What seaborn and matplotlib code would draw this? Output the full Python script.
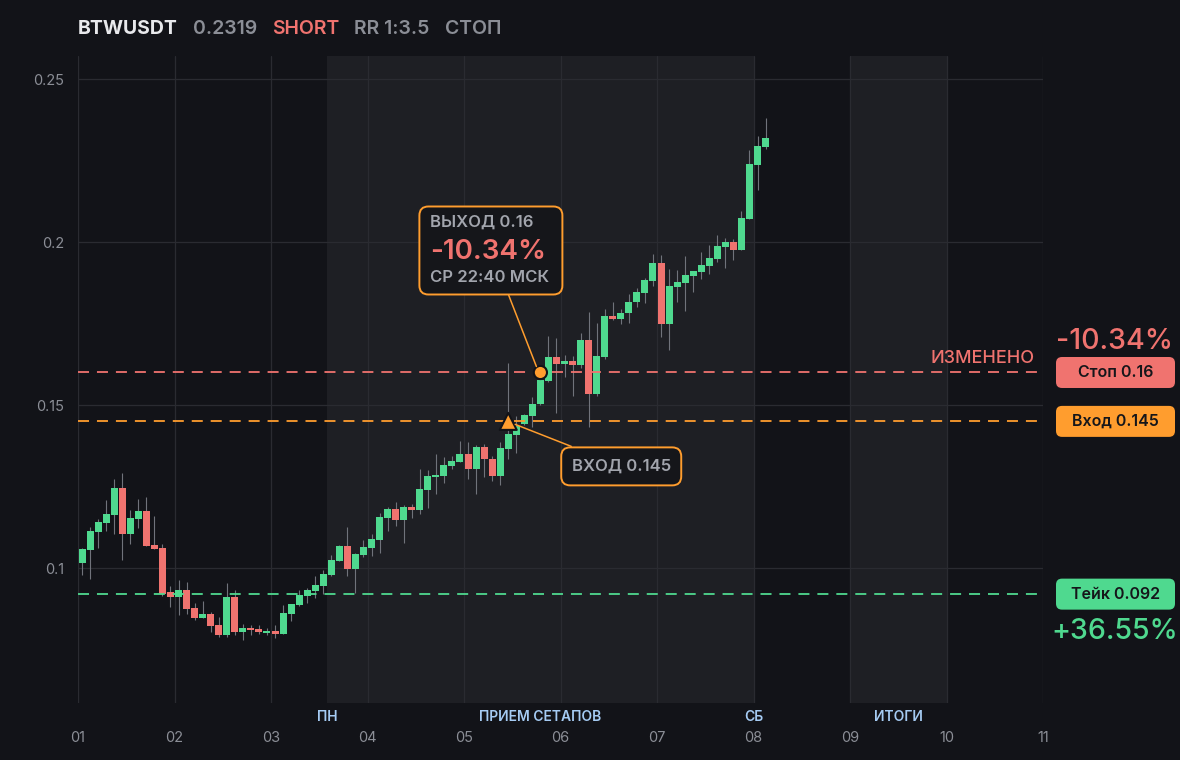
import numpy as np
import pandas as pd
import seaborn as sns
import matplotlib.pyplot as plt
from matplotlib.patches import FancyBboxPatch

# BTWUSDT, 2h candles starting from day 01 00:00
opens = [0.1016, 0.1056, 0.1112, 0.1139, 0.1164, 0.1245, 0.1105, 0.1151, 0.1175, 0.1071,
         0.1061, 0.0926, 0.0912, 0.0933, 0.0877, 0.0848, 0.0859, 0.0825, 0.0796, 0.0911,
         0.0805, 0.0816, 0.0813, 0.0801, 0.0807, 0.0799, 0.0860, 0.0888, 0.0915, 0.0931,
         0.0946, 0.0979, 0.1022, 0.1067, 0.0998, 0.1041, 0.1062, 0.1087, 0.1154, 0.1181,
         0.1148, 0.1187, 0.1179, 0.1240, 0.1279, 0.1283, 0.1313, 0.1325, 0.1350, 0.1305,
         0.1371, 0.1335, 0.1283, 0.1366, 0.1408, 0.1443, 0.1467, 0.1502, 0.1575, 0.1647,
         0.1626, 0.1636, 0.1622, 0.1699, 0.1535, 0.1648, 0.1773, 0.1765, 0.1781, 0.1815,
         0.1844, 0.1881, 0.1936, 0.1749, 0.1862, 0.1874, 0.1896, 0.1908, 0.1927, 0.1948,
         0.1986, 0.2000, 0.1976, 0.2071, 0.2236, 0.2291]
highs = [0.1063, 0.1125, 0.1150, 0.1209, 0.1273, 0.1291, 0.1178, 0.1212, 0.1218, 0.1160,
         0.1074, 0.0945, 0.0963, 0.0957, 0.0893, 0.0899, 0.0865, 0.0850, 0.0954, 0.0933,
         0.0828, 0.0825, 0.0825, 0.0816, 0.0825, 0.0887, 0.0890, 0.0933, 0.0939, 0.0976,
         0.0994, 0.1040, 0.1071, 0.1126, 0.1046, 0.1086, 0.1104, 0.1169, 0.1186, 0.1202,
         0.1193, 0.1196, 0.1304, 0.1301, 0.1350, 0.1340, 0.1344, 0.1390, 0.1387, 0.1377,
         0.1380, 0.1344, 0.1387, 0.1630, 0.1465, 0.1474, 0.1525, 0.1590, 0.1712, 0.1706,
         0.1653, 0.1650, 0.1722, 0.1786, 0.1751, 0.1796, 0.1816, 0.1795, 0.1842, 0.1860,
         0.1891, 0.1963, 0.1960, 0.1917, 0.1914, 0.1957, 0.1911, 0.1969, 0.1991, 0.2021,
         0.2012, 0.2009, 0.2095, 0.2282, 0.2325, 0.2380]
lows = [0.0979, 0.0966, 0.1062, 0.1115, 0.1105, 0.1026, 0.1075, 0.1124, 0.1069, 0.1059,
        0.0915, 0.0881, 0.0857, 0.0860, 0.0842, 0.0846, 0.0805, 0.0789, 0.0789, 0.0796,
        0.0780, 0.0796, 0.0799, 0.0796, 0.0786, 0.0799, 0.0838, 0.0885, 0.0894, 0.0909,
        0.0921, 0.0977, 0.1022, 0.0976, 0.0923, 0.1035, 0.1037, 0.1047, 0.1114, 0.1129,
        0.1078, 0.1154, 0.1167, 0.1185, 0.1228, 0.1262, 0.1304, 0.1325, 0.1273, 0.1227,
        0.1279, 0.1267, 0.1255, 0.1334, 0.1352, 0.1439, 0.1433, 0.1500, 0.1570, 0.1476,
        0.1587, 0.1528, 0.1615, 0.1433, 0.1528, 0.1640, 0.1760, 0.1750, 0.1751, 0.1800,
        0.1814, 0.1866, 0.1710, 0.1670, 0.1817, 0.1789, 0.1847, 0.1886, 0.1902, 0.1939,
        0.1920, 0.1945, 0.1976, 0.2071, 0.2160, 0.2285]
closes = [0.1058, 0.1114, 0.1141, 0.1166, 0.1245, 0.1105, 0.1153, 0.1175, 0.1069, 0.1059,
          0.0920, 0.0912, 0.0933, 0.0875, 0.0848, 0.0859, 0.0823, 0.0796, 0.0911, 0.0805,
          0.0816, 0.0810, 0.0805, 0.0807, 0.0799, 0.0862, 0.0890, 0.0917, 0.0933, 0.0948,
          0.0982, 0.1025, 0.1067, 0.0998, 0.1043, 0.1064, 0.1089, 0.1156, 0.1181, 0.1148,
          0.1187, 0.1179, 0.1242, 0.1282, 0.1285, 0.1316, 0.1328, 0.1350, 0.1305, 0.1371,
          0.1335, 0.1283, 0.1368, 0.1411, 0.1436, 0.1469, 0.1502, 0.1577, 0.1647, 0.1626,
          0.1636, 0.1622, 0.1699, 0.1535, 0.1650, 0.1773, 0.1765, 0.1783, 0.1817, 0.1847,
          0.1883, 0.1936, 0.1749, 0.1865, 0.1877, 0.1899, 0.1911, 0.1930, 0.1951, 0.1988,
          0.2000, 0.1976, 0.2074, 0.2239, 0.2295, 0.2319]

day_labels = ['01', '02', '03', '04', '05', '06', '07', '08', '09', '10', '11']
y_ticks = [0.1, 0.15, 0.2, 0.25]

# trade levels
stop, entry, take = 0.16, 0.145, 0.092
entry_bar, exit_bar = 53, 57

# shaded periods (days since 01 00:00) and their labels
shade_spans = [(31 / 12, 7.0), (8.0, 9.0)]
session_pos = [31 / 12, (31 / 12 + 7.0) / 2, 7.0, 8.5]
session_names = ['ПН', 'ПРИЕМ СЕТАПОВ', 'СБ', 'ИТОГИ']

BG = '#121318'
SHADE = '#1e1f24'
GRID = '#2a2b31'
GREEN = '#4fd98f'
RED = '#f0736f'
ORANGE = '#ff9d2e'
WICK = '#70737b'
GRAY = '#8b8e96'
GRAY2 = '#a2a5ad'
BLUE = '#a5cbf3'
DARK = '#15161a'

sns.set_style('dark')
plt.rcParams['font.family'] = ['Inter', 'DejaVu Sans']

W, H = 1180, 760
fig = plt.figure(figsize=(W / 100, H / 100), dpi=100, facecolor=BG)
ax = fig.add_axes([78 / W, 57 / H, 965 / W, 647 / H])
ax.set_facecolor(BG)

df = pd.DataFrame({'open': opens, 'high': highs, 'low': lows, 'close': closes})
df['t'] = (np.arange(len(df)) + 0.5) / 12
up = df['close'] >= df['open']

for a, b in shade_spans:
    ax.axvspan(a, b, color=SHADE, lw=0, zorder=0)

ax.vlines(df['t'], df['low'], df['high'], color=WICK, lw=0.8, zorder=2)
body = (df['close'] - df['open']).abs().clip(lower=0.0004)
ax.bar(df['t'], body, bottom=df[['open', 'close']].min(axis=1), width=0.87 / 12,
       color=np.where(up, GREEN, RED), lw=0, zorder=3)

for level, col in [(stop, RED), (entry, ORANGE), (take, GREEN)]:
    ax.axhline(level, xmax=0.997, color=col, lw=1.3, ls=(0, (6.1, 4.4)), zorder=4)

marks = pd.DataFrame({'t': [df['t'][entry_bar], df['t'][exit_bar]],
                      'price': [entry, stop], 'kind': ['entry', 'exit']})
sns.scatterplot(data=marks, x='t', y='price', style='kind', size='kind',
                markers={'entry': '^', 'exit': 'o'}, sizes={'entry': 150, 'exit': 90},
                color=ORANGE, edgecolor=BG, linewidth=1.5, legend=False, ax=ax, zorder=6)

ax.set_xlim(0, 10)
ax.set_ylim(0.0586, 0.2571)
ax.set_xticks(range(len(day_labels)))
ax.set_xticklabels(day_labels)
ax.set_yticks(y_ticks)
ax.set_yticklabels([f'{v:g}' for v in y_ticks])
ax.set_xlabel('')
ax.set_ylabel('')
ax.tick_params(axis='x', length=0, pad=20, labelcolor=GRAY, labelsize=10.5)
ax.tick_params(axis='y', length=0, pad=10, labelcolor=GRAY, labelsize=10.5)
ax.grid(True, color=GRID, lw=0.9)
ax.set_axisbelow(True)
for s in ax.spines.values():
    s.set_visible(False)

for x, name in zip(session_pos, session_names):
    ax.annotate(name, xy=(x, 0), xycoords=('data', 'axes fraction'), xytext=(0, -14),
                textcoords='offset pixels', ha='center', va='center', color=BLUE,
                fontsize=10, fontweight='semibold', annotation_clip=False)

# overlay in figure pixels for labels and boxes
ov = fig.add_axes([0, 0, 1, 1])
ov.set_xlim(0, W)
ov.set_ylim(0, H)
ov.axis('off')


def px(x, y):
    return ax.transData.transform((x, y))


loss = (entry - stop) / entry * 100
gain = (entry - take) / entry * 100
rr = (entry - take) / (stop - entry)

# header
parts = [('BTWUSDT', '#e8e9ec', 'bold'), (f'{closes[-1]:.4f}', GRAY, 'semibold'),
         ('SHORT', RED, 'semibold'), (f'RR 1:{rr:.1f}', GRAY, 'semibold'),
         ('СТОП', GRAY, 'semibold')]
prev = ov.text(78, H - 29, parts[0][0], color=parts[0][1], fontweight=parts[0][2],
               fontsize=14, va='center')
for txt, col, fw in parts[1:]:
    prev = ov.annotate(txt, xy=(1, 0), xycoords=prev, xytext=(15, 0),
                       textcoords='offset pixels', color=col, fontweight=fw,
                       fontsize=14, va='bottom')

# exit box
cx, cy = px(df['t'][exit_bar], stop)
ov.add_patch(FancyBboxPatch((cx - 121, cy + 78), 143, 88,
                            boxstyle='round,pad=0,rounding_size=9',
                            fc=DARK, ec=ORANGE, lw=1.4, zorder=3))
ov.plot([cx - 32, cx - 4], [cy + 78, cy + 6], color=ORANGE, lw=1.1, zorder=2)
ov.text(cx - 110, cy + 150, f'ВЫХОД {stop:g}', color=GRAY2, fontsize=12,
        fontweight='semibold', va='center', zorder=4)
ov.text(cx - 110, cy + 120, f'{loss:.2f}%', color=RED, fontsize=20,
        fontweight='semibold', va='center', zorder=4)
ov.text(cx - 110, cy + 95, 'СР 22:40 МСК', color=GRAY2, fontsize=12,
        fontweight='semibold', va='center', zorder=4)

# entry box
tx, ty = px(df['t'][entry_bar], entry)
ov.add_patch(FancyBboxPatch((tx + 53, ty - 64), 120, 38,
                            boxstyle='round,pad=0,rounding_size=9',
                            fc=DARK, ec=ORANGE, lw=1.4, zorder=3))
ov.plot([tx + 7, tx + 63], [ty - 3, ty - 25], color=ORANGE, lw=1.1, zorder=2)
ov.text(tx + 113, ty - 45, f'ВХОД {entry:g}', color=GRAY2, fontsize=12,
        fontweight='semibold', ha='center', va='center', zorder=4)

# right-side badges
for level, label, col in [(stop, f'Стоп {stop:g}', RED), (entry, f'Вход {entry:g}', ORANGE),
                          (take, f'Тейк {take:g}', GREEN)]:
    y = px(0, level)[1]
    ov.add_patch(FancyBboxPatch((1056, y - 15.5), 119, 31,
                                boxstyle='round,pad=0,rounding_size=6', fc=col, ec='none'))
    ov.text(1115.5, y, label, color=DARK, fontsize=11.5, fontweight='semibold',
            ha='center', va='center')

ys = px(0, stop)[1]
yt = px(0, take)[1]
ov.text(1115, ys + 31, f'{loss:.2f}%', color=RED, fontsize=20.5, fontweight='medium',
        ha='center', va='center')
ov.text(1115, yt - 37, f'+{gain:.2f}%', color=GREEN, fontsize=20.5, fontweight='medium',
        ha='center', va='center')
ov.text(1035, ys + 14, 'ИЗМЕНЕНО', color=RED, fontsize=13, fontweight='medium',
        ha='right', va='center')

fig.savefig('out.png', dpi=100, facecolor=BG)
